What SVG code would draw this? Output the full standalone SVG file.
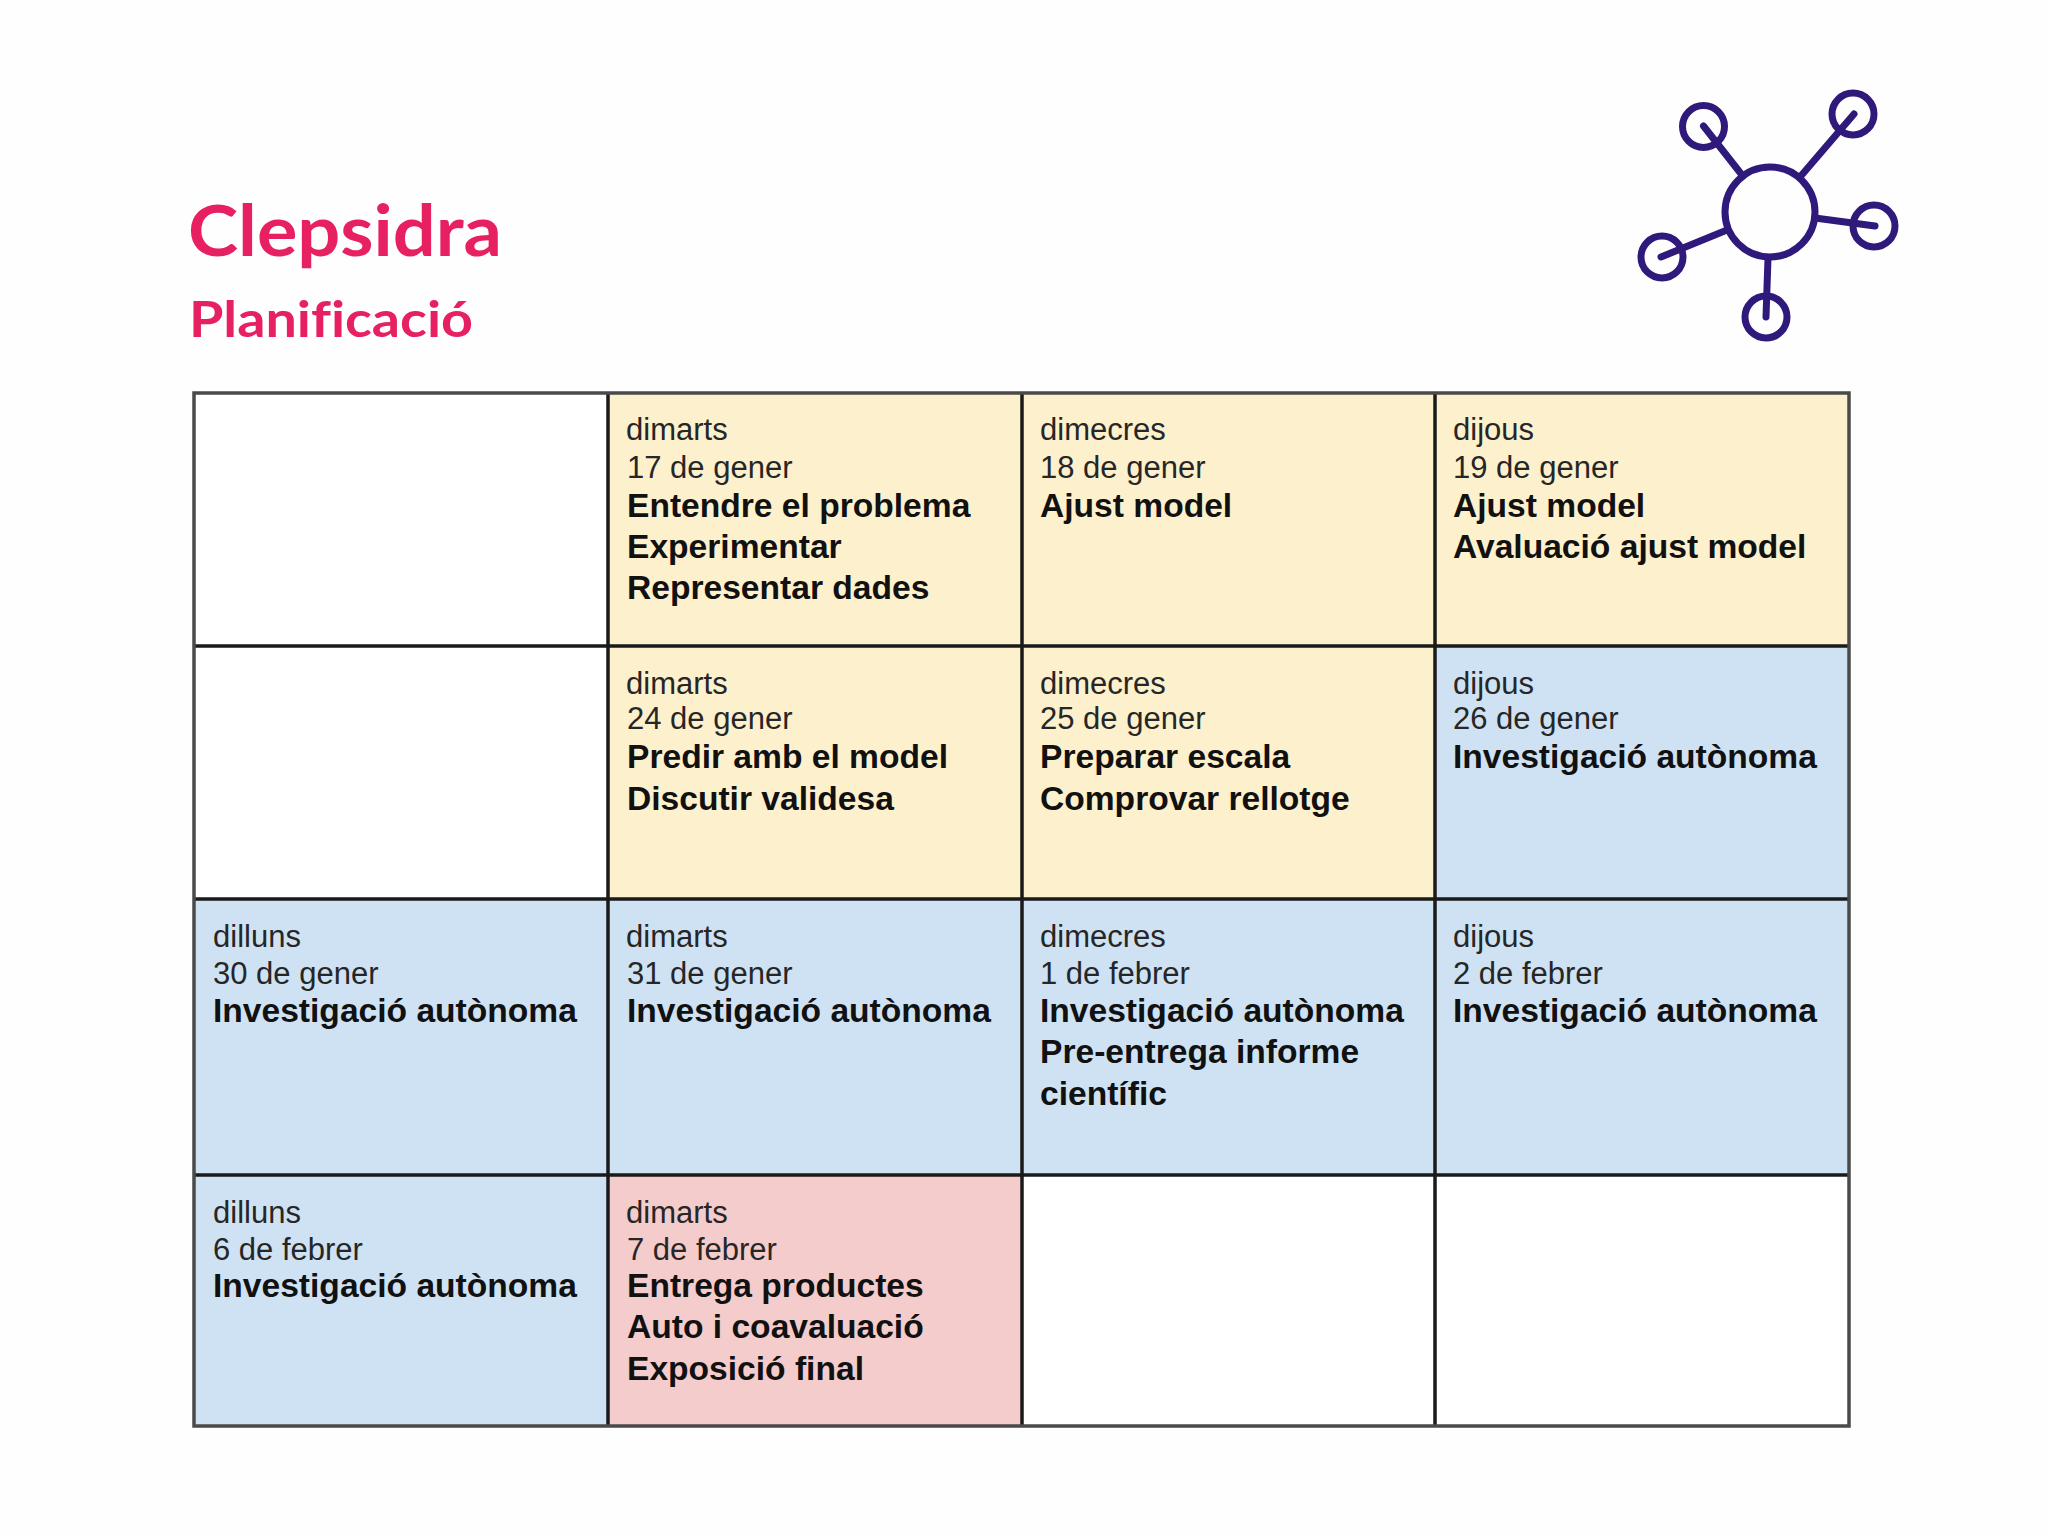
<svg xmlns="http://www.w3.org/2000/svg" width="2048" height="1536" viewBox="0 0 2048 1536">
<style>
.d{font:400 31px "Liberation Sans",Arial,sans-serif;fill:#262626}
.b{font:700 33.6px "Liberation Sans",Arial,sans-serif;fill:#111}
.t{font-family:Lato,"Noto Sans",sans-serif;font-weight:700;fill:#e72062;font-variant-ligatures:none}
.l{stroke:#1a1a1a;stroke-width:3.5;fill:none}
.o{stroke:#4a4a4a;stroke-width:3.5;fill:none}
.i{stroke:#2f1a7c;stroke-width:7;fill:none;stroke-linecap:round}
.y{fill:#fdf0cd}.u{fill:#cfe2f3}.p{fill:#f4cccc}
</style>
<rect width="2048" height="1536" fill="#fefefe"/>
<g id="title">
<text class="t" x="188" y="256" font-size="70" textLength="314" lengthAdjust="spacingAndGlyphs">Clepsidra</text>
<text class="t" x="189" y="337" font-size="50" textLength="284" lengthAdjust="spacingAndGlyphs">Planificació</text>
</g>
<g id="icon" class="i">
<circle cx="1770" cy="212" r="45"/>
<circle cx="1703.5" cy="126.5" r="21"/><circle cx="1853" cy="114" r="21"/><circle cx="1874" cy="226" r="21"/><circle cx="1766" cy="317" r="21"/><circle cx="1662" cy="257" r="21"/>
<path d="M1703.5 126 1742 175M1854 114 1800 177M1875 226 1815 218M1766 317 1768 258M1661 257 1727 230"/>
</g>
<g id="cell-1-1"><rect x="194" y="393" width="414" height="253" fill="#fff"/></g>
<g id="cell-1-2"><rect class="y" x="608" y="393" width="414" height="253"/>
<text class="d" x="626" y="440">dimarts</text><text class="d" x="627" y="478">17 de gener</text><text class="b" x="627" y="517">Entendre el problema</text><text class="b" x="627" y="558">Experimentar</text><text class="b" x="627" y="599">Representar dades</text></g>
<g id="cell-1-3"><rect class="y" x="1022" y="393" width="413" height="253"/>
<text class="d" x="1040" y="440">dimecres</text><text class="d" x="1040" y="478">18 de gener</text><text class="b" x="1040" y="517">Ajust model</text></g>
<g id="cell-1-4"><rect class="y" x="1435" y="393" width="414" height="253"/>
<text class="d" x="1453" y="440">dijous</text><text class="d" x="1453" y="478">19 de gener</text><text class="b" x="1453" y="517">Ajust model</text><text class="b" x="1453" y="558">Avaluació ajust model</text></g>
<g id="cell-2-1"><rect x="194" y="646" width="414" height="253" fill="#fff"/></g>
<g id="cell-2-2"><rect class="y" x="608" y="646" width="414" height="253"/>
<text class="d" x="626" y="694">dimarts</text><text class="d" x="627" y="729">24 de gener</text><text class="b" x="627" y="768">Predir amb el model</text><text class="b" x="627" y="810">Discutir validesa</text></g>
<g id="cell-2-3"><rect class="y" x="1022" y="646" width="413" height="253"/>
<text class="d" x="1040" y="694">dimecres</text><text class="d" x="1040" y="729">25 de gener</text><text class="b" x="1040" y="768">Preparar escala</text><text class="b" x="1040" y="810">Comprovar rellotge</text></g>
<g id="cell-2-4"><rect class="u" x="1435" y="646" width="414" height="253"/>
<text class="d" x="1453" y="694">dijous</text><text class="d" x="1453" y="729">26 de gener</text><text class="b" x="1453" y="768">Investigació autònoma</text></g>
<g id="cell-3-1"><rect class="u" x="194" y="899" width="414" height="276"/>
<text class="d" x="213" y="947">dilluns</text><text class="d" x="213" y="984">30 de gener</text><text class="b" x="213" y="1022">Investigació autònoma</text></g>
<g id="cell-3-2"><rect class="u" x="608" y="899" width="414" height="276"/>
<text class="d" x="626" y="947">dimarts</text><text class="d" x="627" y="984">31 de gener</text><text class="b" x="627" y="1022">Investigació autònoma</text></g>
<g id="cell-3-3"><rect class="u" x="1022" y="899" width="413" height="276"/>
<text class="d" x="1040" y="947">dimecres</text><text class="d" x="1040" y="984">1 de febrer</text><text class="b" x="1040" y="1022">Investigació autònoma</text><text class="b" x="1040" y="1063">Pre-entrega informe</text><text class="b" x="1040" y="1105">científic</text></g>
<g id="cell-3-4"><rect class="u" x="1435" y="899" width="414" height="276"/>
<text class="d" x="1453" y="947">dijous</text><text class="d" x="1453" y="984">2 de febrer</text><text class="b" x="1453" y="1022">Investigació autònoma</text></g>
<g id="cell-4-1"><rect class="u" x="194" y="1175" width="414" height="251"/>
<text class="d" x="213" y="1223">dilluns</text><text class="d" x="213" y="1260">6 de febrer</text><text class="b" x="213" y="1297">Investigació autònoma</text></g>
<g id="cell-4-2"><rect class="p" x="608" y="1175" width="414" height="251"/>
<text class="d" x="626" y="1223">dimarts</text><text class="d" x="627" y="1260">7 de febrer</text><text class="b" x="627" y="1297">Entrega productes</text><text class="b" x="627" y="1338">Auto i coavaluació</text><text class="b" x="627" y="1380">Exposició final</text></g>
<g id="cell-4-3"><rect x="1022" y="1175" width="413" height="251" fill="#fff"/></g>
<g id="cell-4-4"><rect x="1435" y="1175" width="414" height="251" fill="#fff"/></g>
<g id="connectors">
<path class="l" d="M194 646H1849M194 899H1849M194 1175H1849M608 393V1426M1022 393V1426M1435 393V1426"/>
<rect class="o" x="194" y="393" width="1655" height="1033"/>
</g>
</svg>
